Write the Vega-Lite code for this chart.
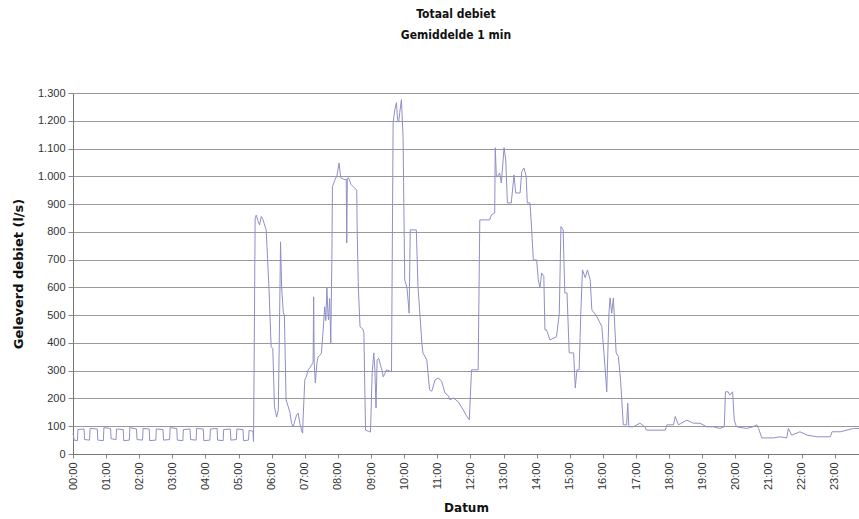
{
  "$schema": "https://vega.github.io/schema/vega-lite/v6.json",
  "autosize": "none",
  "width": 786,
  "height": 361,
  "padding": {"left": 73, "top": 93, "right": 0, "bottom": 65},
  "config": {"view": {"stroke": null}, "font": "Liberation Sans"},
  "title": {
    "text": ["Totaal debiet", "Gemiddelde 1 min"],
    "font": "'DejaVu Sans Condensed', 'Liberation Sans', sans-serif",
    "fontSize": 12,
    "fontWeight": "bold",
    "lineHeight": 21,
    "anchor": "middle",
    "dx": -10,
    "offset": 45,
    "color": "#111"
  },
  "data": {
    "values": [
      {"t": "2024-01-01T00:00", "v": 75}, {"t": "2024-01-01T00:02", "v": 50}, {"t": "2024-01-01T00:08", "v": 48}, {"t": "2024-01-01T00:09", "v": 88},
      {"t": "2024-01-01T00:20", "v": 90}, {"t": "2024-01-01T00:21", "v": 52}, {"t": "2024-01-01T00:30", "v": 50}, {"t": "2024-01-01T00:31", "v": 92},
      {"t": "2024-01-01T00:44", "v": 90}, {"t": "2024-01-01T00:45", "v": 50}, {"t": "2024-01-01T00:55", "v": 48}, {"t": "2024-01-01T00:56", "v": 95},
      {"t": "2024-01-01T01:08", "v": 92}, {"t": "2024-01-01T01:09", "v": 55}, {"t": "2024-01-01T01:18", "v": 52}, {"t": "2024-01-01T01:19", "v": 90},
      {"t": "2024-01-01T01:31", "v": 88}, {"t": "2024-01-01T01:32", "v": 48}, {"t": "2024-01-01T01:42", "v": 50}, {"t": "2024-01-01T01:43", "v": 95},
      {"t": "2024-01-01T01:55", "v": 90}, {"t": "2024-01-01T01:56", "v": 52}, {"t": "2024-01-01T02:06", "v": 50}, {"t": "2024-01-01T02:07", "v": 92},
      {"t": "2024-01-01T02:18", "v": 90}, {"t": "2024-01-01T02:19", "v": 48}, {"t": "2024-01-01T02:30", "v": 50}, {"t": "2024-01-01T02:31", "v": 90},
      {"t": "2024-01-01T02:43", "v": 88}, {"t": "2024-01-01T02:44", "v": 50}, {"t": "2024-01-01T02:55", "v": 52}, {"t": "2024-01-01T02:56", "v": 95},
      {"t": "2024-01-01T03:08", "v": 92}, {"t": "2024-01-01T03:09", "v": 50}, {"t": "2024-01-01T03:19", "v": 48}, {"t": "2024-01-01T03:20", "v": 88},
      {"t": "2024-01-01T03:32", "v": 90}, {"t": "2024-01-01T03:33", "v": 52}, {"t": "2024-01-01T03:43", "v": 50}, {"t": "2024-01-01T03:44", "v": 92},
      {"t": "2024-01-01T03:56", "v": 90}, {"t": "2024-01-01T03:57", "v": 48}, {"t": "2024-01-01T04:08", "v": 50}, {"t": "2024-01-01T04:09", "v": 90},
      {"t": "2024-01-01T04:21", "v": 92}, {"t": "2024-01-01T04:22", "v": 50}, {"t": "2024-01-01T04:32", "v": 48}, {"t": "2024-01-01T04:33", "v": 88},
      {"t": "2024-01-01T04:45", "v": 90}, {"t": "2024-01-01T04:46", "v": 50}, {"t": "2024-01-01T04:56", "v": 52}, {"t": "2024-01-01T04:57", "v": 90},
      {"t": "2024-01-01T05:08", "v": 88}, {"t": "2024-01-01T05:09", "v": 48}, {"t": "2024-01-01T05:18", "v": 50}, {"t": "2024-01-01T05:19", "v": 85},
      {"t": "2024-01-01T05:26", "v": 82}, {"t": "2024-01-01T05:27", "v": 45}, {"t": "2024-01-01T05:28", "v": 280}, {"t": "2024-01-01T05:30", "v": 850},
      {"t": "2024-01-01T05:32", "v": 860}, {"t": "2024-01-01T05:35", "v": 840}, {"t": "2024-01-01T05:38", "v": 825}, {"t": "2024-01-01T05:41", "v": 855},
      {"t": "2024-01-01T05:44", "v": 845}, {"t": "2024-01-01T05:50", "v": 807}, {"t": "2024-01-01T05:55", "v": 600}, {"t": "2024-01-01T05:59", "v": 386},
      {"t": "2024-01-01T06:02", "v": 380}, {"t": "2024-01-01T06:05", "v": 170}, {"t": "2024-01-01T06:07", "v": 150}, {"t": "2024-01-01T06:09", "v": 133},
      {"t": "2024-01-01T06:12", "v": 160}, {"t": "2024-01-01T06:15", "v": 600}, {"t": "2024-01-01T06:16", "v": 764}, {"t": "2024-01-01T06:18", "v": 600},
      {"t": "2024-01-01T06:21", "v": 508}, {"t": "2024-01-01T06:23", "v": 500}, {"t": "2024-01-01T06:26", "v": 195}, {"t": "2024-01-01T06:30", "v": 170},
      {"t": "2024-01-01T06:33", "v": 150}, {"t": "2024-01-01T06:36", "v": 110}, {"t": "2024-01-01T06:39", "v": 98}, {"t": "2024-01-01T06:42", "v": 120},
      {"t": "2024-01-01T06:45", "v": 140}, {"t": "2024-01-01T06:48", "v": 147}, {"t": "2024-01-01T06:51", "v": 110}, {"t": "2024-01-01T06:54", "v": 86},
      {"t": "2024-01-01T06:56", "v": 75}, {"t": "2024-01-01T06:57", "v": 133}, {"t": "2024-01-01T07:00", "v": 267}, {"t": "2024-01-01T07:03", "v": 280},
      {"t": "2024-01-01T07:06", "v": 303}, {"t": "2024-01-01T07:09", "v": 310}, {"t": "2024-01-01T07:12", "v": 320}, {"t": "2024-01-01T07:15", "v": 330},
      {"t": "2024-01-01T07:16", "v": 566}, {"t": "2024-01-01T07:17", "v": 330}, {"t": "2024-01-01T07:19", "v": 256}, {"t": "2024-01-01T07:22", "v": 330},
      {"t": "2024-01-01T07:24", "v": 350}, {"t": "2024-01-01T07:27", "v": 355}, {"t": "2024-01-01T07:30", "v": 363}, {"t": "2024-01-01T07:33", "v": 440},
      {"t": "2024-01-01T07:36", "v": 530}, {"t": "2024-01-01T07:38", "v": 480}, {"t": "2024-01-01T07:40", "v": 598}, {"t": "2024-01-01T07:42", "v": 500},
      {"t": "2024-01-01T07:43", "v": 483}, {"t": "2024-01-01T07:45", "v": 560}, {"t": "2024-01-01T07:47", "v": 400}, {"t": "2024-01-01T07:49", "v": 700},
      {"t": "2024-01-01T07:50", "v": 962}, {"t": "2024-01-01T07:55", "v": 990}, {"t": "2024-01-01T07:58", "v": 1000}, {"t": "2024-01-01T08:02", "v": 1048},
      {"t": "2024-01-01T08:05", "v": 995}, {"t": "2024-01-01T08:10", "v": 990}, {"t": "2024-01-01T08:13", "v": 987}, {"t": "2024-01-01T08:15", "v": 990},
      {"t": "2024-01-01T08:16", "v": 760}, {"t": "2024-01-01T08:17", "v": 990}, {"t": "2024-01-01T08:19", "v": 995}, {"t": "2024-01-01T08:24", "v": 970},
      {"t": "2024-01-01T08:28", "v": 962}, {"t": "2024-01-01T08:34", "v": 951}, {"t": "2024-01-01T08:35", "v": 789}, {"t": "2024-01-01T08:37", "v": 600},
      {"t": "2024-01-01T08:40", "v": 458}, {"t": "2024-01-01T08:45", "v": 450}, {"t": "2024-01-01T08:47", "v": 436}, {"t": "2024-01-01T08:50", "v": 86},
      {"t": "2024-01-01T08:55", "v": 82}, {"t": "2024-01-01T08:59", "v": 79}, {"t": "2024-01-01T09:02", "v": 292}, {"t": "2024-01-01T09:05", "v": 364},
      {"t": "2024-01-01T09:07", "v": 300}, {"t": "2024-01-01T09:09", "v": 166}, {"t": "2024-01-01T09:11", "v": 339}, {"t": "2024-01-01T09:14", "v": 345},
      {"t": "2024-01-01T09:16", "v": 328}, {"t": "2024-01-01T09:20", "v": 300}, {"t": "2024-01-01T09:22", "v": 278}, {"t": "2024-01-01T09:25", "v": 290},
      {"t": "2024-01-01T09:28", "v": 303}, {"t": "2024-01-01T09:37", "v": 296}, {"t": "2024-01-01T09:40", "v": 1193}, {"t": "2024-01-01T09:43", "v": 1240},
      {"t": "2024-01-01T09:46", "v": 1265}, {"t": "2024-01-01T09:48", "v": 1204}, {"t": "2024-01-01T09:50", "v": 1195}, {"t": "2024-01-01T09:52", "v": 1230},
      {"t": "2024-01-01T09:55", "v": 1276}, {"t": "2024-01-01T09:58", "v": 1142}, {"t": "2024-01-01T10:01", "v": 627}, {"t": "2024-01-01T10:05", "v": 600},
      {"t": "2024-01-01T10:07", "v": 555}, {"t": "2024-01-01T10:09", "v": 507}, {"t": "2024-01-01T10:11", "v": 807}, {"t": "2024-01-01T10:22", "v": 807},
      {"t": "2024-01-01T10:25", "v": 602}, {"t": "2024-01-01T10:28", "v": 519}, {"t": "2024-01-01T10:32", "v": 400}, {"t": "2024-01-01T10:34", "v": 364},
      {"t": "2024-01-01T10:38", "v": 350}, {"t": "2024-01-01T10:41", "v": 339}, {"t": "2024-01-01T10:46", "v": 231}, {"t": "2024-01-01T10:50", "v": 226},
      {"t": "2024-01-01T10:56", "v": 267}, {"t": "2024-01-01T11:02", "v": 274}, {"t": "2024-01-01T11:08", "v": 261}, {"t": "2024-01-01T11:14", "v": 219},
      {"t": "2024-01-01T11:20", "v": 210}, {"t": "2024-01-01T11:23", "v": 195}, {"t": "2024-01-01T11:29", "v": 202}, {"t": "2024-01-01T11:38", "v": 188},
      {"t": "2024-01-01T11:47", "v": 159}, {"t": "2024-01-01T11:52", "v": 140}, {"t": "2024-01-01T11:58", "v": 123}, {"t": "2024-01-01T12:02", "v": 303},
      {"t": "2024-01-01T12:14", "v": 303}, {"t": "2024-01-01T12:17", "v": 843}, {"t": "2024-01-01T12:35", "v": 843}, {"t": "2024-01-01T12:38", "v": 861},
      {"t": "2024-01-01T12:44", "v": 868}, {"t": "2024-01-01T12:45", "v": 1103}, {"t": "2024-01-01T12:47", "v": 1000}, {"t": "2024-01-01T12:49", "v": 999},
      {"t": "2024-01-01T12:53", "v": 1012}, {"t": "2024-01-01T12:56", "v": 976}, {"t": "2024-01-01T13:01", "v": 1103}, {"t": "2024-01-01T13:04", "v": 1059},
      {"t": "2024-01-01T13:07", "v": 904}, {"t": "2024-01-01T13:14", "v": 904}, {"t": "2024-01-01T13:19", "v": 1005}, {"t": "2024-01-01T13:22", "v": 940},
      {"t": "2024-01-01T13:30", "v": 940}, {"t": "2024-01-01T13:33", "v": 1016}, {"t": "2024-01-01T13:37", "v": 1030}, {"t": "2024-01-01T13:41", "v": 1000},
      {"t": "2024-01-01T13:43", "v": 904}, {"t": "2024-01-01T13:48", "v": 904}, {"t": "2024-01-01T13:51", "v": 807}, {"t": "2024-01-01T13:54", "v": 699},
      {"t": "2024-01-01T14:00", "v": 699}, {"t": "2024-01-01T14:03", "v": 627}, {"t": "2024-01-01T14:06", "v": 598}, {"t": "2024-01-01T14:09", "v": 652},
      {"t": "2024-01-01T14:13", "v": 639}, {"t": "2024-01-01T14:15", "v": 447}, {"t": "2024-01-01T14:18", "v": 447}, {"t": "2024-01-01T14:24", "v": 411},
      {"t": "2024-01-01T14:36", "v": 422}, {"t": "2024-01-01T14:41", "v": 507}, {"t": "2024-01-01T14:44", "v": 819}, {"t": "2024-01-01T14:48", "v": 807},
      {"t": "2024-01-01T14:51", "v": 580}, {"t": "2024-01-01T14:55", "v": 580}, {"t": "2024-01-01T14:59", "v": 364}, {"t": "2024-01-01T15:07", "v": 364},
      {"t": "2024-01-01T15:10", "v": 238}, {"t": "2024-01-01T15:13", "v": 303}, {"t": "2024-01-01T15:17", "v": 303}, {"t": "2024-01-01T15:20", "v": 507},
      {"t": "2024-01-01T15:23", "v": 663}, {"t": "2024-01-01T15:28", "v": 635}, {"t": "2024-01-01T15:32", "v": 663}, {"t": "2024-01-01T15:37", "v": 627},
      {"t": "2024-01-01T15:40", "v": 519}, {"t": "2024-01-01T15:49", "v": 495}, {"t": "2024-01-01T15:58", "v": 459}, {"t": "2024-01-01T16:02", "v": 364},
      {"t": "2024-01-01T16:07", "v": 224}, {"t": "2024-01-01T16:11", "v": 507}, {"t": "2024-01-01T16:13", "v": 562}, {"t": "2024-01-01T16:16", "v": 507},
      {"t": "2024-01-01T16:19", "v": 562}, {"t": "2024-01-01T16:24", "v": 364}, {"t": "2024-01-01T16:28", "v": 351}, {"t": "2024-01-01T16:32", "v": 267},
      {"t": "2024-01-01T16:37", "v": 105}, {"t": "2024-01-01T16:43", "v": 105}, {"t": "2024-01-01T16:45", "v": 183}, {"t": "2024-01-01T16:47", "v": 98},
      {"t": "2024-01-01T16:55", "v": 98}, {"t": "2024-01-01T17:07", "v": 111}, {"t": "2024-01-01T17:16", "v": 98}, {"t": "2024-01-01T17:19", "v": 86},
      {"t": "2024-01-01T17:53", "v": 86}, {"t": "2024-01-01T17:56", "v": 105}, {"t": "2024-01-01T18:08", "v": 105}, {"t": "2024-01-01T18:11", "v": 135},
      {"t": "2024-01-01T18:17", "v": 105}, {"t": "2024-01-01T18:32", "v": 122}, {"t": "2024-01-01T18:44", "v": 111}, {"t": "2024-01-01T18:56", "v": 111},
      {"t": "2024-01-01T19:08", "v": 98}, {"t": "2024-01-01T19:20", "v": 98}, {"t": "2024-01-01T19:32", "v": 92}, {"t": "2024-01-01T19:40", "v": 98},
      {"t": "2024-01-01T19:42", "v": 224}, {"t": "2024-01-01T19:47", "v": 224}, {"t": "2024-01-01T19:50", "v": 212}, {"t": "2024-01-01T19:55", "v": 224},
      {"t": "2024-01-01T19:58", "v": 122}, {"t": "2024-01-01T20:02", "v": 98}, {"t": "2024-01-01T20:20", "v": 92}, {"t": "2024-01-01T20:32", "v": 98},
      {"t": "2024-01-01T20:39", "v": 105}, {"t": "2024-01-01T20:42", "v": 92}, {"t": "2024-01-01T20:48", "v": 58}, {"t": "2024-01-01T21:09", "v": 58},
      {"t": "2024-01-01T21:21", "v": 62}, {"t": "2024-01-01T21:33", "v": 58}, {"t": "2024-01-01T21:36", "v": 92}, {"t": "2024-01-01T21:42", "v": 68},
      {"t": "2024-01-01T21:57", "v": 80}, {"t": "2024-01-01T22:10", "v": 68}, {"t": "2024-01-01T22:28", "v": 62}, {"t": "2024-01-01T22:52", "v": 62},
      {"t": "2024-01-01T22:55", "v": 80}, {"t": "2024-01-01T23:10", "v": 80}, {"t": "2024-01-01T23:22", "v": 86}, {"t": "2024-01-01T23:34", "v": 92},
      {"t": "2024-01-01T23:44", "v": 92}
    ]
  },
  "mark": {"type": "line", "color": "#8f8fc9", "strokeWidth": 1},
  "encoding": {
    "x": {
      "field": "t",
      "type": "temporal",
      "title": "Datum",
      "scale": {"nice": false},
      "axis": {
        "format": "%H:%M",
        "labelAngle": -90,
        "labelFontSize": 11,
        "labelColor": "#333",
        "labelPadding": 4,
        "labelFlush": false,
        "tickSize": 4,
        "tickColor": "#888",
        "domainColor": "#777",
        "grid": false,
        "titleFont": "DejaVu Sans",
        "titleFontSize": 12,
        "titleFontWeight": "bold",
        "titleColor": "#111",
        "titlePadding": 13
      }
    },
    "y": {
      "field": "v",
      "type": "quantitative",
      "title": "Geleverd debiet (l/s)",
      "scale": {"domain": [0, 1300], "nice": false},
      "axis": {
        "tickCount": 13,
        "labelExpr": "replace(format(datum.value, ','), ',', '.')",
        "labelFontSize": 11,
        "labelColor": "#333",
        "labelPadding": 3,
        "tickSize": 5,
        "tickColor": "#888",
        "domainColor": "#777",
        "grid": true,
        "gridColor": "#999",
        "gridWidth": 1,
        "titleFont": "DejaVu Sans",
        "titleFontSize": 13,
        "titleFontWeight": "bold",
        "titleColor": "#111",
        "titlePadding": 12
      }
    }
  }
}
